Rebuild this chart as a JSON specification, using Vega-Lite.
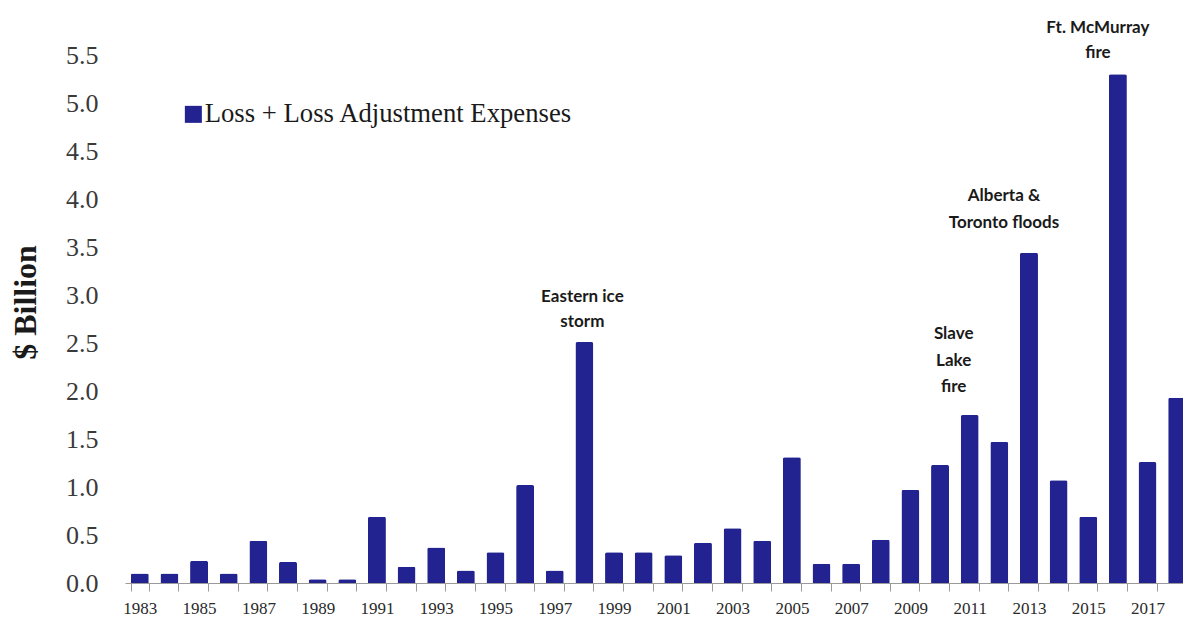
{
  "$schema": "https://vega.github.io/schema/vega-lite/v6.json",
  "width": 1058,
  "height": 528,
  "autosize": {"type": "none"},
  "padding": {"left": 125, "top": 55, "right": 0, "bottom": 41},
  "background": "white",
  "config": {"view": {"stroke": null}},
  "datasets": {
    "losses": [
      {"year": 1983, "loss": 0.10}, {"year": 1984, "loss": 0.10}, {"year": 1985, "loss": 0.23},
      {"year": 1986, "loss": 0.10}, {"year": 1987, "loss": 0.44}, {"year": 1988, "loss": 0.22},
      {"year": 1989, "loss": 0.04}, {"year": 1990, "loss": 0.04}, {"year": 1991, "loss": 0.69},
      {"year": 1992, "loss": 0.17}, {"year": 1993, "loss": 0.37}, {"year": 1994, "loss": 0.13},
      {"year": 1995, "loss": 0.32}, {"year": 1996, "loss": 1.02}, {"year": 1997, "loss": 0.13},
      {"year": 1998, "loss": 2.51}, {"year": 1999, "loss": 0.32}, {"year": 2000, "loss": 0.32},
      {"year": 2001, "loss": 0.29}, {"year": 2002, "loss": 0.42}, {"year": 2003, "loss": 0.57},
      {"year": 2004, "loss": 0.44}, {"year": 2005, "loss": 1.31}, {"year": 2006, "loss": 0.20},
      {"year": 2007, "loss": 0.20}, {"year": 2008, "loss": 0.45}, {"year": 2009, "loss": 0.97},
      {"year": 2010, "loss": 1.23}, {"year": 2011, "loss": 1.75}, {"year": 2012, "loss": 1.47},
      {"year": 2013, "loss": 3.44}, {"year": 2014, "loss": 1.07}, {"year": 2015, "loss": 0.69},
      {"year": 2016, "loss": 5.30}, {"year": 2017, "loss": 1.26}, {"year": 2018, "loss": 1.93}
    ]
  },
  "layer": [
    {
      "data": {"name": "losses"},
      "mark": {"type": "bar", "width": 18, "cornerRadiusTopLeft": 2, "cornerRadiusTopRight": 2},
      "encoding": {
        "x": {
          "field": "year", "type": "ordinal",
          "scale": {"range": [0, 1067], "paddingInner": 0.39, "paddingOuter": 0.195},
          "axis": {
            "title": null, "tickBand": "extent", "labelAngle": 0,
            "labelExpr": "datum.value % 2 == 1 ? datum.label : ''",
            "labelOverlap": false, "labelFont": "Liberation Serif", "labelFontSize": 17,
            "labelColor": "#2a2a2a", "labelPadding": 9, "tickSize": 8, "tickColor": "#9a9a9a",
            "domainColor": "#9a9a9a", "grid": false
          }
        },
        "y": {
          "field": "loss", "type": "quantitative",
          "scale": {"domain": [0, 5.5], "nice": false},
          "axis": {
            "values": [0, 0.5, 1, 1.5, 2, 2.5, 3, 3.5, 4, 4.5, 5, 5.5], "format": ".1f",
            "domain": false, "ticks": false, "grid": false,
            "labelFont": "Liberation Serif", "labelFontSize": 26, "labelColor": "#3a3a3a",
            "labelPadding": 27,
            "title": "$ Billion", "titleFont": "Liberation Serif", "titleFontSize": 32,
            "titleFontWeight": "bold", "titleColor": "#1a1a1a", "titleAngle": -90,
            "titleX": -90, "titleY": 247, "titleAlign": "center", "titleBaseline": "alphabetic"
          }
        },
        "color": {
          "datum": "Loss + Loss Adjustment Expenses",
          "scale": {"range": ["#222290"]},
          "legend": {
            "title": null, "orient": "none", "legendX": 55, "legendY": 46, "padding": 0,
            "symbolType": "square", "symbolSize": 289, "symbolStrokeWidth": 0,
            "labelFont": "Liberation Serif", "labelFontSize": 26.7, "labelColor": "#1a1a1a",
            "labelOffset": -2, "labelLimit": 600
          }
        }
      }
    },
    {
      "data": {"values": [{"year": 1998, "pos": 2.974, "label": "Eastern ice\nstorm"}]},
      "mark": {"type": "text", "font": "Lato", "fontWeight": "bold", "fontSize": 17, "lineHeight": 25, "lineBreak": "\n", "align": "center", "baseline": "middle", "color": "#1a1a1a", "dx": -2},
      "encoding": {"x": {"field": "year", "type": "ordinal"}, "y": {"field": "pos", "type": "quantitative"}, "text": {"field": "label"}}
    },
    {
      "data": {"values": [{"year": 2011, "pos": 2.589, "label": "Slave\nLake\nfire"}]},
      "mark": {"type": "text", "font": "Lato", "fontWeight": "bold", "fontSize": 17, "lineHeight": 26.5, "lineBreak": "\n", "align": "center", "baseline": "middle", "color": "#1a1a1a", "dx": -16},
      "encoding": {"x": {"field": "year", "type": "ordinal"}, "y": {"field": "pos", "type": "quantitative"}, "text": {"field": "label"}}
    },
    {
      "data": {"values": [{"year": 2013, "pos": 4.036, "label": "Alberta &\nToronto floods"}]},
      "mark": {"type": "text", "font": "Lato", "fontWeight": "bold", "fontSize": 17, "lineHeight": 27, "lineBreak": "\n", "align": "center", "baseline": "middle", "color": "#1a1a1a", "dx": -25},
      "encoding": {"x": {"field": "year", "type": "ordinal"}, "y": {"field": "pos", "type": "quantitative"}, "text": {"field": "label"}}
    },
    {
      "data": {"values": [{"year": 2016, "pos": 5.786, "label": "Ft. McMurray\nfire"}]},
      "mark": {"type": "text", "font": "Lato", "fontWeight": "bold", "fontSize": 17, "lineHeight": 25, "lineBreak": "\n", "align": "center", "baseline": "middle", "color": "#1a1a1a", "dx": -20},
      "encoding": {"x": {"field": "year", "type": "ordinal"}, "y": {"field": "pos", "type": "quantitative"}, "text": {"field": "label"}}
    }
  ]
}
